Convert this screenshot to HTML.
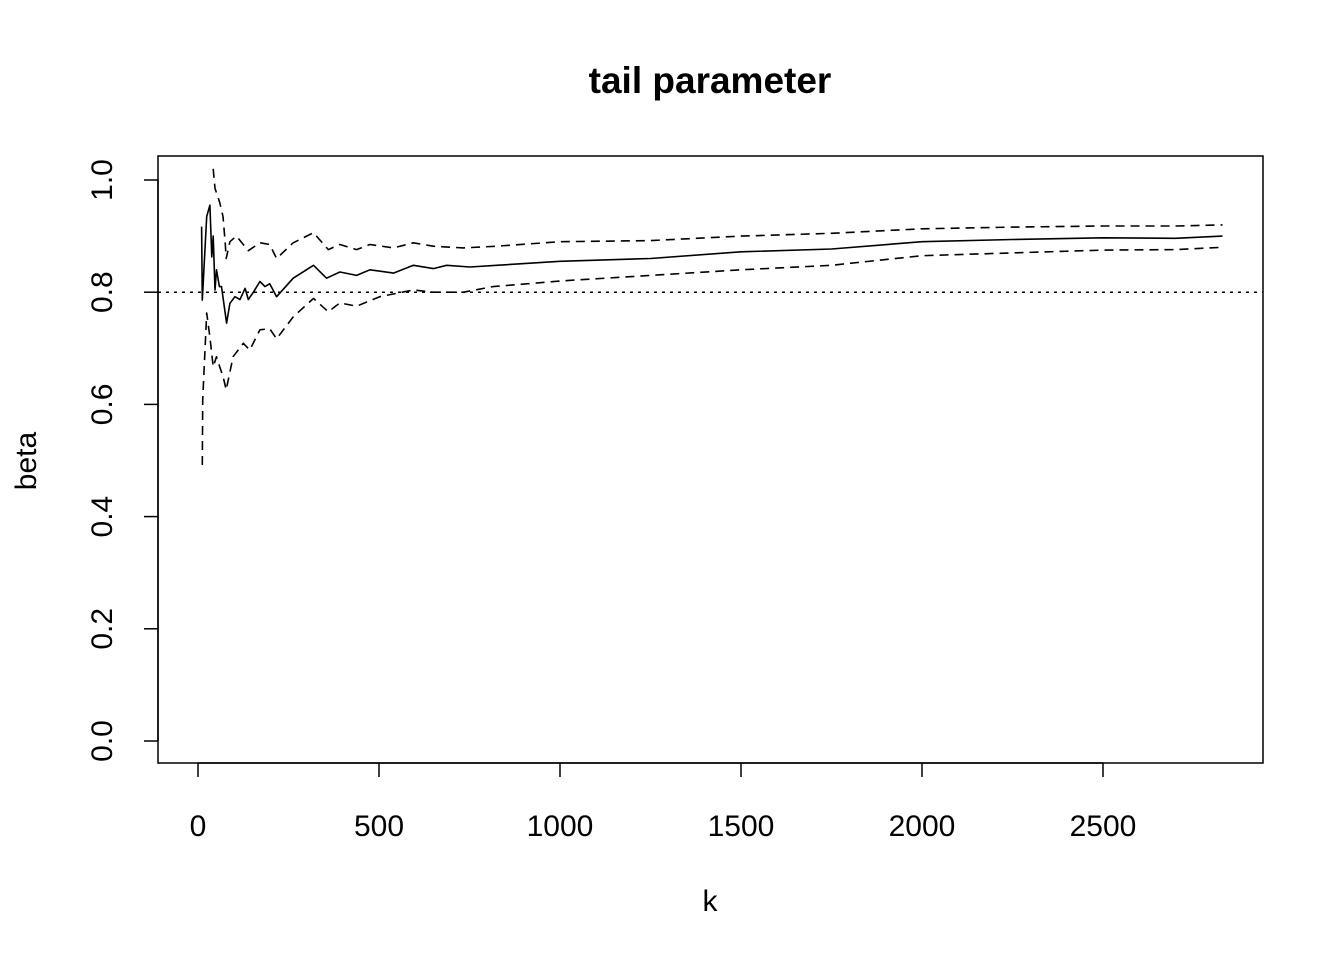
<!DOCTYPE html>
<html><head><meta charset="utf-8"><style>
html,body{margin:0;padding:0;background:#fff;}
svg text{font-family:"Liberation Sans",Arial,sans-serif;fill:#000;}
</style></head><body>
<svg id="chart" width="1344" height="960" xmlns="http://www.w3.org/2000/svg">
<rect x="0" y="0" width="1344" height="960" fill="#fff"/>
<text x="710" y="93" font-size="37" font-weight="bold" text-anchor="middle">tail parameter</text>
<rect x="158" y="156" width="1105" height="607" fill="none" stroke="#000" stroke-width="1.5"/>
<text x="710" y="911" font-size="30" text-anchor="middle">k</text>
<text transform="translate(36,461) rotate(-90)" font-size="30" text-anchor="middle">beta</text>
<g id="axes"></g>
<g id="series"></g>
</svg>
<script>
const xTicks = [0, 500, 1000, 1500, 2000, 2500];
const yTicks = [0.0, 0.2, 0.4, 0.6, 0.8, 1.0];
const yTickLabels = ["0.0", "0.2", "0.4", "0.6", "0.8", "1.0"];
const refLevel = 0.8;
const meanK = [10,12,24,33,38,42,47,51,59,65,79,88,102,116,130,139,153,171,185,198,217,263,319,355,392,438,475,540,595,650,687,751,825,1000,1250,1500,1750,2000,2250,2500,2700,2830];
const meanB = [0.917,0.786,0.935,0.955,0.863,0.90,0.804,0.84,0.81,0.81,0.745,0.78,0.792,0.787,0.807,0.787,0.80,0.819,0.81,0.815,0.792,0.825,0.848,0.825,0.836,0.83,0.84,0.834,0.848,0.842,0.848,0.845,0.848,0.855,0.86,0.872,0.877,0.89,0.894,0.897,0.896,0.90];
const upperK = [42,47,60,69,75,78,88,106,139,171,198,217,263,319,360,392,438,475,540,595,650,733,825,1000,1250,1500,1750,2000,2250,2500,2700,2830];
const upperB = [1.02,0.985,0.96,0.935,0.888,0.86,0.89,0.90,0.874,0.888,0.885,0.86,0.888,0.906,0.876,0.885,0.876,0.885,0.879,0.888,0.882,0.879,0.882,0.89,0.892,0.90,0.905,0.913,0.916,0.918,0.918,0.92];
const lowerK = [12,13,24,33,42,51,60,69,78,97,125,143,171,198,217,263,319,360,392,438,502,595,650,733,815,1000,1250,1500,1750,2000,2250,2500,2700,2830];
const lowerB = [0.492,0.608,0.763,0.72,0.667,0.685,0.667,0.65,0.626,0.685,0.709,0.697,0.733,0.735,0.717,0.756,0.789,0.765,0.781,0.775,0.792,0.804,0.80,0.80,0.81,0.82,0.83,0.84,0.848,0.865,0.87,0.875,0.876,0.88];

const NS = "http://www.w3.org/2000/svg";
const X = k => 198 + k * (905 / 2500);
const Y = b => 741 - b * 561;
const axes = document.getElementById('axes');
const series = document.getElementById('series');
function mk(tag, attrs, parent, txt) {
  const e = document.createElementNS(NS, tag);
  for (const a in attrs) e.setAttribute(a, attrs[a]);
  if (txt !== undefined) e.textContent = txt;
  parent.appendChild(e);
  return e;
}
let xl = mk('line', {x1: X(xTicks[0]), x2: X(xTicks[xTicks.length-1]), y1: 763, y2: 763, stroke: '#000', 'stroke-width': 1.5}, axes);


xTicks.forEach(t => {
  const l = mk('line', {x1: X(t), x2: X(t), y1: 763, y2: 777, stroke: '#000', 'stroke-width': 1.5}, axes);
  
  
  const tx = mk('text', {x: X(t), y: 836, 'font-size': 30, 'text-anchor': 'middle'}, axes, String(t));
  
  
});
let yl = mk('line', {x1: 158, x2: 158, y1: Y(yTicks[0]), y2: Y(yTicks[yTicks.length-1]), stroke: '#000', 'stroke-width': 1.5}, axes);


yTicks.forEach((t, i) => {
  const l = mk('line', {x1: 144, x2: 158, y1: Y(t), y2: Y(t), stroke: '#000', 'stroke-width': 1.5}, axes);
  
  
  const tx = mk('text', {transform: `translate(112,${Y(t)}) rotate(-90)`, 'font-size': 30, 'text-anchor': 'middle'}, axes, yTickLabels[i]);
  
  
});
const ref = mk('line', {x1: 158, x2: 1263, y1: Y(refLevel), y2: Y(refLevel), stroke: '#000', 'stroke-width': 1.5, 'stroke-dasharray': '3,5'}, series);


function path(ks, bs, dash, name) {
  const d = ks.map((k, i) => (i ? 'L' : 'M') + X(k).toFixed(1) + ',' + Y(bs[i]).toFixed(1)).join(' ');
  const p = mk('path', {d: d, fill: 'none', stroke: '#000', 'stroke-width': 1.6, 'stroke-linejoin': 'round'}, series);
  if (dash) p.setAttribute('stroke-dasharray', dash);
  
  
}
path(upperK, upperB, '9,6', 'upper-bound-line');
path(lowerK, lowerB, '9,6', 'lower-bound-line');
path(meanK, meanB, null, 'estimate-line');
</script>
</body></html>
